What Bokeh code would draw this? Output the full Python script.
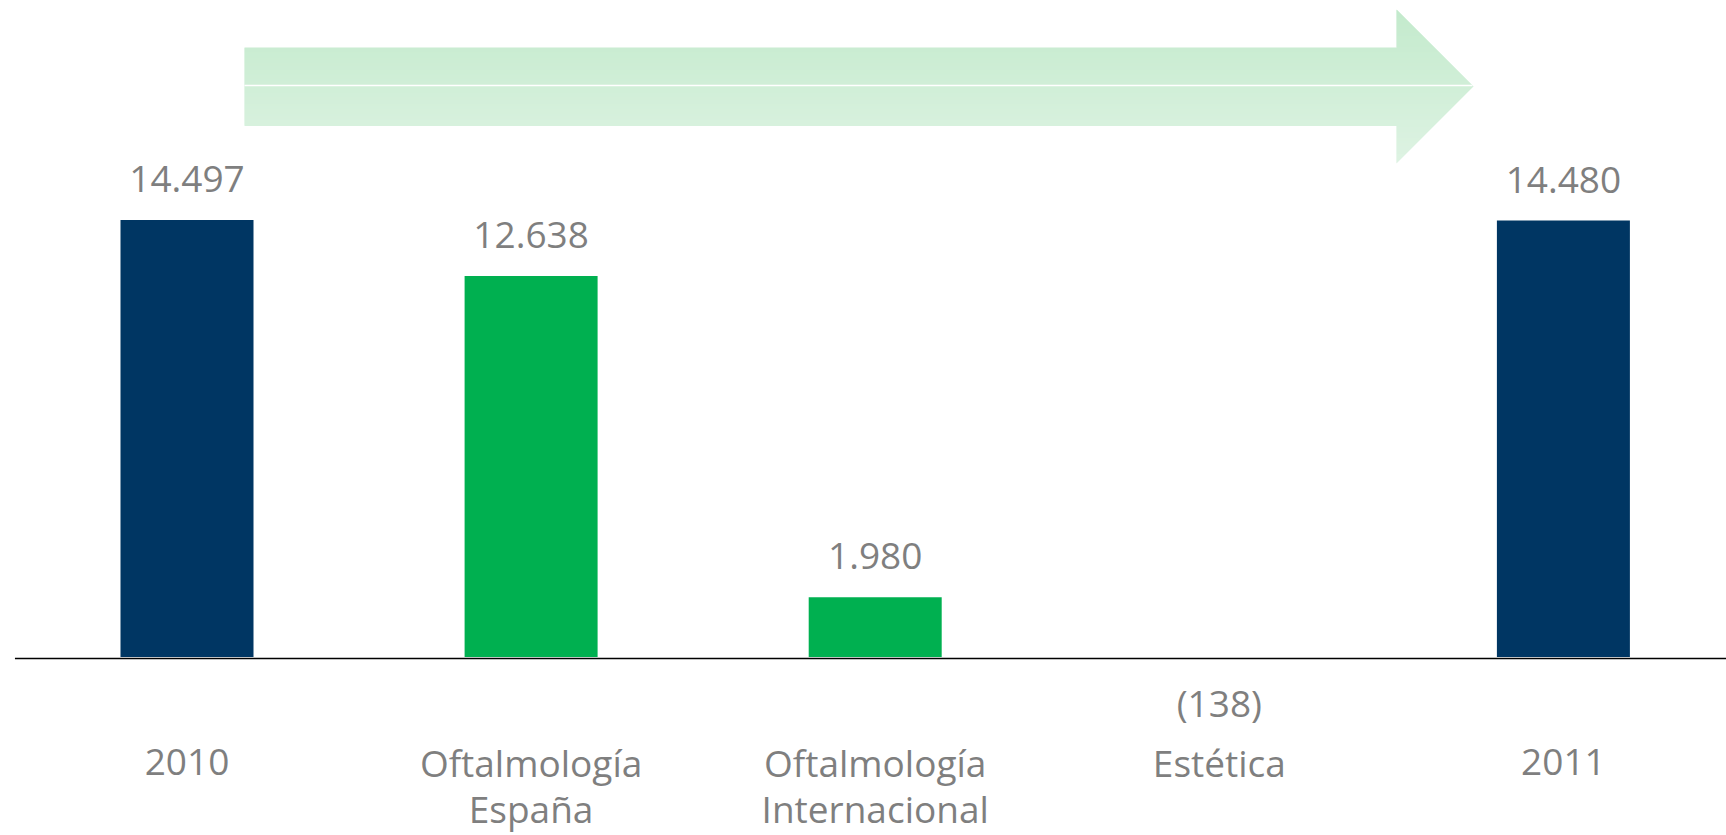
from bokeh.plotting import figure
from bokeh.models import Range1d, ColumnDataSource
from bokeh.core.properties import value
from bokeh.embed import file_html
from bokeh.resources import INLINE

# ---- data ----
categories = ["2010", "Oftalmología\nEspaña", "Oftalmología\nInternacional", "Estética", "2011"]
values = [14497, 12638, 1980, -138, 14480]
value_labels = ["14.497", "12.638", "1.980", "(138)", "14.480"]
kinds = ["total", "delta", "delta", "delta", "total"]

# ---- layout constants (screen pixels) ----
W, H = 1726, 835
CAT_PX = 344.1          # pixels per category
X0_PX = 186.5           # canvas x of the first category centre
BASE_PX = 656.5         # canvas y of value 0
PX = 0.03014            # pixels per unit of value
TXT_FIX = 15.5          # rendered alphabetic baseline sits this much lower

x_start = -X0_PX / CAT_PX
x_end = x_start + W / CAT_PX
y_end = BASE_PX / PX
y_start = -(H - BASE_PX) / PX


def dx(px):
    return x_start + px / CAT_PX


def dy(py):
    return (BASE_PX - py) / PX


NAVY = "#003663"
GREEN = "#00b050"
GRAY = "#7f7f7f"
FONT = value("Open Sans")

p = figure(width=W, height=H, output_backend="svg", toolbar_location=None,
           x_range=Range1d(x_start, x_end), y_range=Range1d(y_start, y_end),
           x_axis_type=None, y_axis_type=None, min_border=0,
           outline_line_color=None)
p.grid.visible = False
p.background_fill_color = "white"
p.border_fill_color = "white"

# ---- arrow with vertical gradient (drawn as thin horizontal bands) ----
xl, xb, tip = 244, 1396, 1473
head_top, shaft_top, mid, shaft_bot, head_bot = 9, 47, 86, 125, 163
c_top = (195, 234, 204)
c_bot = (222, 243, 227)


def right_edge(y):
    return xb + (tip - xb) * (1 - abs(y - mid) / (mid - head_top))


band_xs, band_ys, band_cols = [], [], []
for a in range(head_top, head_bot):
    b = a + 1
    bb = min(b + 0.6, head_bot)
    left = xl if (a >= shaft_top and b <= shaft_bot) else xb
    pts = [(left, a), (right_edge(a), a)]
    if a < mid < bb:
        pts.append((tip, mid))
    pts += [(right_edge(bb), bb), (left, bb)]
    band_xs.append([dx(x) for x, _ in pts])
    band_ys.append([dy(y) for _, y in pts])
    t = (a + 0.5 - head_top) / (head_bot - head_top)
    col = tuple(int(round(c_top[k] + (c_bot[k] - c_top[k]) * t)) for k in range(3))
    band_cols.append("#%02x%02x%02x" % col)

p.patches(band_xs, band_ys, fill_color=band_cols, line_color=None)
p.segment(x0=[dx(xl)], y0=[dy(mid - 1)], x1=[dx(tip - 1)], y1=[dy(mid - 1)],
          line_color="white", line_width=1.5)

# ---- bars ----
xs = list(range(len(categories)))
bar_colors = [NAVY if k == "total" else GREEN for k in kinds]
bar_alpha = [1.0 if v > 0 else 0.0 for v in values]
src = ColumnDataSource(dict(x=xs, top=values, color=bar_colors, alpha=bar_alpha))
p.vbar(x="x", top="top", bottom=0, width=133 / CAT_PX, source=src,
       fill_color="color", fill_alpha="alpha", line_color=None)

# ---- baseline ----
p.segment(x0=[-0.5], y0=[dy(BASE_PX + 1.5)], x1=[x_end], y1=[dy(BASE_PX + 1.5)],
          line_color="black", line_width=1.5)

# ---- value labels ----
lab_y = [v + (25.5 + TXT_FIX) / PX if v > 0 else dy(717 - TXT_FIX) for v in values]
p.text(x=xs, y=lab_y, text=value_labels, text_font=FONT, text_font_size="37px",
       text_color=GRAY, text_align="center", text_baseline="alphabetic")

# ---- category labels ----
line1 = [c.split("\n")[0] for c in categories]
line2 = [c.split("\n")[1] if "\n" in c else "" for c in categories]
p.text(x=xs, y=[dy(777 - TXT_FIX)] * len(xs), text=line1, text_font=FONT,
       text_font_size="37px", text_color=GRAY, text_align="center",
       text_baseline="alphabetic")
p.text(x=xs, y=[dy(823 - TXT_FIX)] * len(xs), text=line2, text_font=FONT,
       text_font_size="37px", text_color=GRAY, text_align="center",
       text_baseline="alphabetic")

open("out.html", "w").write(file_html(p, INLINE))
